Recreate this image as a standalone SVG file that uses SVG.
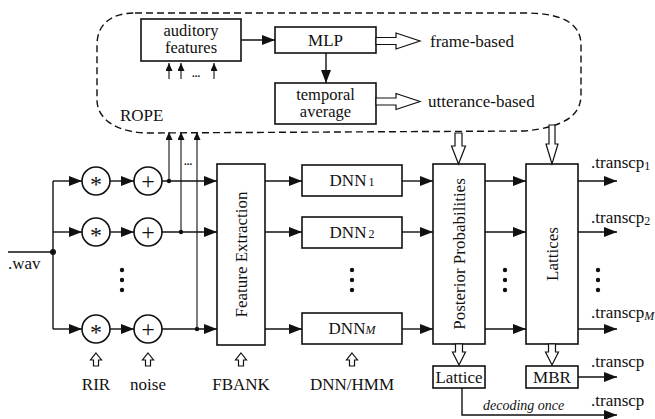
<svg xmlns="http://www.w3.org/2000/svg" width="655" height="419" viewBox="0 0 655 419" font-family="'Liberation Serif', 'DejaVu Serif', serif">
  <defs>
    <marker id="arr" markerUnits="userSpaceOnUse" markerWidth="13" markerHeight="10" viewBox="0 0 13 10" refX="13" refY="5" orient="auto">
      <path d="M0,0 L13,5 L0,10 Z" fill="#111"/>
    </marker>
    <marker id="arrS" markerUnits="userSpaceOnUse" markerWidth="8" markerHeight="7" viewBox="0 0 8 7" refX="8" refY="3.5" orient="auto">
      <path d="M0,0 L8,3.5 L0,7 Z" fill="#111"/>
    </marker>
    <style>
      .box { fill: #fff; stroke: #111; stroke-width: 1.6; }
      .ln { fill: none; stroke: #111; stroke-width: 1.4; }
      .thin { fill: none; stroke: #111; stroke-width: 1.1; }
      .hollow { fill: #fff; stroke: #111; stroke-width: 1.2; stroke-linejoin: miter; }
      .dash { fill: none; stroke: #111; stroke-width: 1.4; stroke-dasharray: 7 4; }
      .dot { fill: #111; }
      text { font-family: 'Liberation Serif', 'DejaVu Serif', serif; font-size: 17px; fill: #111; }
      .mid { text-anchor: middle; }
      .two { font-size: 16.5px; }
      .sub { font-size: 12px; }
      .it { font-style: italic; }
      .sym { font-size: 24px; text-anchor: middle; }
    </style>
  </defs>

  <!-- ROPE module (dashed region) -->
  <g id="rope">
    <path class="dash" d="M135 13 H525 C565 13 581 25 581 45 V95 C581 115 565 127 525 131 L150 133 C115 133 97 118 97 100 V45 C97 25 110 13 135 13 Z"/>
    <text x="120" y="121">ROPE</text>
  </g>

  <g id="auditory-features">
    <rect class="box" x="141" y="19" width="100" height="42"/>
    <text class="mid two" x="191" y="35.5">auditory<tspan x="191" dy="17.5">features</tspan></text>
  </g>
  <g id="mlp">
    <rect class="box" x="275" y="27" width="101" height="26"/>
    <text class="mid" x="325.5" y="46">MLP</text>
  </g>
  <g id="temporal-average">
    <rect class="box" x="275" y="83" width="101" height="41"/>
    <text class="mid two" x="325.5" y="99.5">temporal<tspan x="325.5" dy="17.5">average</tspan></text>
  </g>
  <g id="frame-based">
    <text x="430" y="47">frame-based</text>
  </g>
  <g id="utterance-based">
    <text x="428" y="107">utterance-based</text>
  </g>

  <!-- signal chain -->
  <g id="wav">
    <text x="8" y="269">.wav</text>
  </g>
  <g id="rir-1"><circle class="box" cx="96" cy="181" r="14"/><text class="sym" x="96" y="192">*</text></g>
  <g id="rir-2"><circle class="box" cx="96" cy="232" r="14"/><text class="sym" x="96" y="243">*</text></g>
  <g id="rir-m"><circle class="box" cx="96" cy="329" r="14"/><text class="sym" x="96" y="340">*</text></g>
  <g id="noise-1"><circle class="box" cx="148" cy="181" r="14"/><text class="sym" x="148" y="189">+</text></g>
  <g id="noise-2"><circle class="box" cx="148" cy="232" r="14"/><text class="sym" x="148" y="240">+</text></g>
  <g id="noise-m"><circle class="box" cx="148" cy="329" r="14"/><text class="sym" x="148" y="337">+</text></g>

  <g id="feature-extraction">
    <rect class="box" x="217" y="164" width="48" height="181"/>
    <text class="mid" x="247" y="254.5" transform="rotate(-90 247 254.5)">Feature Extraction</text>
  </g>
  <g id="dnn-1">
    <rect class="box" x="302" y="165" width="100" height="31"/>
    <text class="mid" x="352" y="186">DNN<tspan class="sub" dx="2">1</tspan></text>
  </g>
  <g id="dnn-2">
    <rect class="box" x="302" y="217" width="100" height="31"/>
    <text class="mid" x="352" y="238">DNN<tspan class="sub" dx="2">2</tspan></text>
  </g>
  <g id="dnn-m">
    <rect class="box" x="302" y="313" width="100" height="31"/>
    <text class="mid" x="352" y="334">DNN<tspan class="sub it">M</tspan></text>
  </g>
  <g id="posterior-probabilities">
    <rect class="box" x="433" y="164" width="52" height="180"/>
    <text class="mid" x="465" y="254" transform="rotate(-90 465 254)">Posterior Probabilities</text>
  </g>
  <g id="lattices">
    <rect class="box" x="526" y="164" width="52" height="180"/>
    <text class="mid" x="558" y="254" transform="rotate(-90 558 254)">Lattices</text>
  </g>
  <g id="lattice">
    <rect class="box" x="433" y="366" width="52" height="22"/>
    <text class="mid" x="459" y="383">Lattice</text>
  </g>
  <g id="mbr">
    <rect class="box" x="526" y="366" width="52" height="22"/>
    <text class="mid" x="552" y="383">MBR</text>
  </g>

  <!-- labels on inputs and outputs -->
  <g id="labels">
    <text class="mid" x="96" y="390">RIR</text>
    <text class="mid" x="148" y="390">noise</text>
    <text class="mid" x="241" y="390">FBANK</text>
    <text class="mid" x="352" y="390">DNN/HMM</text>
    <text x="591" y="168">.transcp<tspan class="sub" dy="2">1</tspan></text>
    <text x="591" y="223">.transcp<tspan class="sub" dy="2">2</tspan></text>
    <text x="591" y="318">.transcp<tspan class="sub it" dy="2">M</tspan></text>
    <text x="591" y="367">.transcp</text>
    <text x="591" y="406">.transcp</text>
    <text class="it" x="483" y="410" style="font-size:14px">decoding once</text>
  </g>

  <!-- connectors -->
  <g id="connectors">
    <!-- ROPE internals -->
    <path class="ln" d="M241 40 H275" marker-end="url(#arr)"/>
    <path class="ln" d="M326 53 V83" marker-end="url(#arr)"/>
    <path class="thin" d="M169 79 V63" marker-end="url(#arrS)"/>
    <path class="thin" d="M181 79 V63" marker-end="url(#arrS)"/>
    <path class="thin" d="M214 79 V63" marker-end="url(#arrS)"/>
    <text x="192" y="77" style="font-size:11px;font-weight:bold">...</text>
    <polygon class="hollow" points="376,37.5 396,37.5 396,33 420,41 396,49 396,44.5 376,44.5"/>
    <polygon class="hollow" points="376,98 396,98 396,93.5 420,101.5 396,109.5 396,105 376,105"/>

    <!-- input split -->
    <path class="ln" d="M8 252 H53"/>
    <circle class="dot" cx="53" cy="252" r="3"/>
    <path class="ln" d="M53 181 V329"/>
    <path class="ln" d="M53 181 H82" marker-end="url(#arr)"/>
    <path class="ln" d="M53 232 H82" marker-end="url(#arr)"/>
    <path class="ln" d="M53 329 H82" marker-end="url(#arr)"/>
    <path class="ln" d="M110 181 H134" marker-end="url(#arr)"/>
    <path class="ln" d="M110 232 H134" marker-end="url(#arr)"/>
    <path class="ln" d="M110 329 H134" marker-end="url(#arr)"/>
    <path class="ln" d="M162 181 H217" marker-end="url(#arr)"/>
    <path class="ln" d="M162 232 H217" marker-end="url(#arr)"/>
    <path class="ln" d="M162 329 H217" marker-end="url(#arr)"/>

    <!-- taps into ROPE -->
    <circle class="dot" cx="169" cy="181" r="2.2"/>
    <circle class="dot" cx="181" cy="232" r="2.2"/>
    <circle class="dot" cx="197" cy="329" r="2.2"/>
    <path class="thin" d="M169 181 V132" marker-end="url(#arrS)"/>
    <path class="thin" d="M181 232 V132" marker-end="url(#arrS)"/>
    <path class="thin" d="M197 329 V132" marker-end="url(#arrS)"/>
    <text x="184" y="165" style="font-size:11px;font-weight:bold">...</text>

    <!-- feature extraction to DNNs -->
    <path class="ln" d="M265 181 H302" marker-end="url(#arr)"/>
    <path class="ln" d="M265 232 H302" marker-end="url(#arr)"/>
    <path class="ln" d="M265 329 H302" marker-end="url(#arr)"/>
    <path class="ln" d="M402 181 H433" marker-end="url(#arr)"/>
    <path class="ln" d="M402 232 H433" marker-end="url(#arr)"/>
    <path class="ln" d="M402 329 H433" marker-end="url(#arr)"/>
    <path class="ln" d="M485 181 H526" marker-end="url(#arr)"/>
    <path class="ln" d="M485 232 H526" marker-end="url(#arr)"/>
    <path class="ln" d="M485 329 H526" marker-end="url(#arr)"/>
    <path class="ln" d="M578 181 H617" marker-end="url(#arr)"/>
    <path class="ln" d="M578 232 H617" marker-end="url(#arr)"/>
    <path class="ln" d="M578 329 H617" marker-end="url(#arr)"/>
    <path class="ln" d="M578 377 H617" marker-end="url(#arr)"/>
    <path class="ln" d="M462 388 V415 H617" marker-end="url(#arr)"/>

    <!-- vertical ellipses -->
    <g class="dot">
      <circle cx="122" cy="270" r="2.2"/><circle cx="122" cy="280" r="2.2"/><circle cx="122" cy="290" r="2.2"/>
      <circle cx="352" cy="270" r="2.2"/><circle cx="352" cy="280" r="2.2"/><circle cx="352" cy="290" r="2.2"/>
      <circle cx="505" cy="270" r="2.2"/><circle cx="505" cy="280" r="2.2"/><circle cx="505" cy="290" r="2.2"/>
      <circle cx="598" cy="270" r="2.2"/><circle cx="598" cy="280" r="2.2"/><circle cx="598" cy="290" r="2.2"/>
    </g>

    <!-- hollow input arrows -->
    <polygon class="hollow" points="96,353 101.5,360 98.5,360 98.5,366 93.5,366 93.5,360 90.5,360"/>
    <polygon class="hollow" points="148,353 153.5,360 150.5,360 150.5,366 145.5,366 145.5,360 142.5,360"/>
    <polygon class="hollow" points="241,353 246.5,360 243.5,360 243.5,366 238.5,366 238.5,360 235.5,360"/>
    <polygon class="hollow" points="352,353 357.5,360 354.5,360 354.5,366 349.5,366 349.5,360 346.5,360"/>

    <!-- ROPE outputs down into posteriors and lattices -->
    <polygon class="hollow" points="455,133 462,133 462,146 465.5,146 458.5,164 451.5,146 455,146"/>
    <polygon class="hollow" points="549,125 555,125 555,144 558,144 552,164 546,144 549,144"/>

    <!-- hollow arrows to Lattice and MBR -->
    <polygon class="hollow" points="455.5,344 462.5,344 462.5,352 465.5,352 459,365 452.5,352 455.5,352"/>
    <polygon class="hollow" points="548.5,344 555.5,344 555.5,352 558.5,352 552,365 545.5,352 548.5,352"/>
  </g>
</svg>
